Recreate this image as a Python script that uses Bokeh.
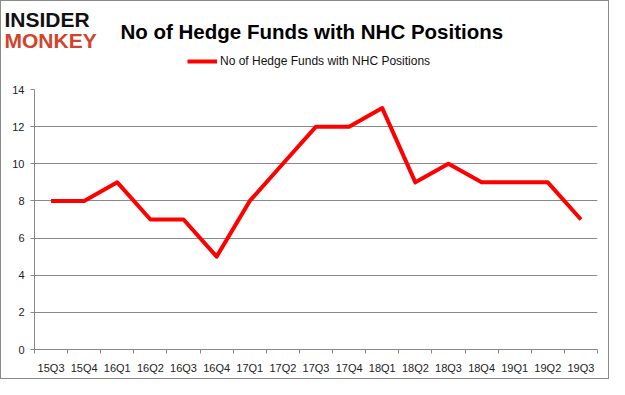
from bokeh.plotting import figure
from bokeh.layouts import column
from bokeh.models import FixedTicker, Label, Legend, LegendItem, Range1d
from bokeh.embed import file_html
from bokeh.resources import INLINE

categories = ["15Q3", "15Q4", "16Q1", "16Q2", "16Q3", "16Q4", "17Q1", "17Q2", "17Q3",
              "17Q4", "18Q1", "18Q2", "18Q3", "18Q4", "19Q1", "19Q2", "19Q3"]
values = [8, 8, 9, 7, 7, 5, 8, 10, 12, 12, 13, 9, 10, 9, 9, 9, 7]
y_ticks = [0, 2, 4, 6, 8, 10, 12, 14]
series_name = "No of Hedge Funds with NHC Positions"
title_text = "No of Hedge Funds with NHC Positions"

FONT = "Liberation Sans"
GRAY = "#888888"
W = 607
HEAD_H = 82
LY = -7.5   # vertical correction measured on the rendered page

# ---------- header (logo, title, legend) ----------
h = figure(frame_width=W, frame_height=HEAD_H, min_border=0,
           x_range=Range1d(0, W), y_range=Range1d(0, HEAD_H),
           x_axis_location=None, y_axis_location=None,
           output_backend="svg", toolbar_location=None)
h.frame_align = False
h.grid.visible = False
h.outline_line_color = None
h.background_fill_color = "white"
h.border_fill_color = "white"


def head_label(x, y_from_top, text, size, color):
    return Label(x=x, y=HEAD_H - (y_from_top + LY), x_units="screen", y_units="screen",
                 text=text, text_font=FONT, text_font_style="bold",
                 text_font_size=size, text_color=color, text_baseline="alphabetic")


h.add_layout(head_label(3, 25, "INSIDER", "21px", "#111111"))
h.add_layout(head_label(3, 46, "MONKEY", "21px", "#d2432c"))
h.add_layout(head_label(119, 37.5, title_text, "20.5px", "#000000"))

dummy = h.line([-1000, -990], [-1000, -1000], line_color="#ff0000", line_width=4)
legend = Legend(items=[LegendItem(label=series_name, renderers=[dummy])],
                location=(186, HEAD_H - 67), orientation="horizontal",
                glyph_width=30, glyph_height=14, label_height=14,
                label_standoff=3, padding=0, margin=0, spacing=0,
                border_line_color=None, background_fill_alpha=0,
                label_text_font=FONT, label_text_font_size="12px",
                label_text_color="#111111")
h.add_layout(legend, "center")

# ---------- chart ----------
xs = list(range(len(categories)))

p = figure(frame_width=563, frame_height=260,
           min_border_left=33, min_border_right=11, min_border_top=6, min_border_bottom=29,
           output_backend="svg", toolbar_location=None,
           x_range=Range1d(-0.5, len(categories) - 0.5), y_range=Range1d(0, 14))
p.frame_align = False
p.outline_line_color = None
p.background_fill_color = "white"
p.border_fill_color = "white"

p.line(xs, values, line_color="#ff0000", line_width=4, line_join="round")

p.xaxis.ticker = FixedTicker(ticks=xs, minor_ticks=[i - 0.5 for i in range(len(categories) + 1)])
p.xaxis.major_label_overrides = {i: c for i, c in enumerate(categories)}
p.xaxis.major_tick_out = 0
p.xaxis.major_tick_in = 0
p.xaxis.minor_tick_out = 4
p.xaxis.minor_tick_in = 0
p.xaxis.minor_tick_line_color = GRAY
p.xaxis.axis_line_color = GRAY
p.xaxis.major_label_text_font = FONT
p.xaxis.major_label_text_font_size = "11px"
p.xaxis.major_label_text_color = "#222222"
p.xaxis.major_label_standoff = 8

p.yaxis.ticker = FixedTicker(ticks=y_ticks)
p.yaxis.major_tick_out = 4
p.yaxis.major_tick_in = 0
p.yaxis.minor_tick_out = 0
p.yaxis.minor_tick_in = 0
p.yaxis.major_tick_line_color = GRAY
p.yaxis.axis_line_color = GRAY
p.yaxis.major_label_text_font = FONT
p.yaxis.major_label_text_font_size = "11px"
p.yaxis.major_label_text_color = "#222222"
p.yaxis.major_label_standoff = 6

p.xgrid.grid_line_color = None
p.ygrid.grid_line_color = GRAY
p.ygrid.grid_line_width = 1

layout = column(h, p, spacing=0)
layout.styles = {"border": "1px solid #8a8a8a"}

open("out.html", "w").write(file_html(layout, INLINE))
